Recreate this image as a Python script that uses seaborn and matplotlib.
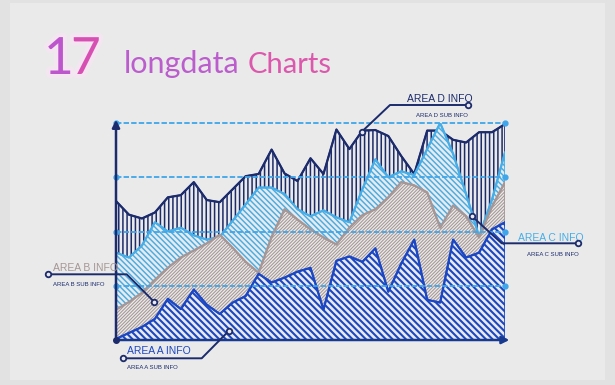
import numpy as np
import matplotlib
matplotlib.use("Agg")
import matplotlib.pyplot as plt
import matplotlib.patheffects as pe
from matplotlib.lines import Line2D
from matplotlib.patches import Rectangle
import seaborn as sns

# ---- data ----
x = np.arange(31)
area_d = [2.56, 2.31, 2.24, 2.35, 2.63, 2.67, 2.91, 2.58, 2.54, 2.78, 3.02, 3.06, 3.51, 3.07, 2.93,
          3.35, 3.06, 3.88, 3.52, 3.86, 3.87, 3.76, 3.39, 3.06, 3.86, 3.86, 3.69, 3.64, 3.83, 3.83, 3.98]
area_c = [1.61, 1.52, 1.74, 2.17, 2.00, 2.07, 1.93, 1.85, 1.90, 2.20, 2.50, 2.81, 2.81, 2.69, 2.41,
          2.28, 2.39, 2.26, 2.17, 2.78, 3.33, 3.00, 3.11, 3.04, 3.52, 4.00, 3.43, 2.69, 1.91, 2.59, 3.46]
area_b = [0.56, 0.70, 0.87, 1.11, 1.33, 1.52, 1.65, 1.78, 1.94, 1.70, 1.44, 1.24, 1.90, 2.41, 2.22,
          2.04, 1.89, 1.76, 2.07, 2.30, 2.41, 2.63, 2.91, 2.85, 2.72, 2.07, 2.48, 2.28, 1.89, 2.46, 2.91]
area_a = [0.02, 0.13, 0.24, 0.39, 0.76, 0.57, 0.93, 0.65, 0.48, 0.69, 0.81, 1.22, 1.06, 1.15, 1.26,
          1.33, 0.56, 1.46, 1.54, 1.44, 1.69, 0.89, 1.41, 1.85, 0.74, 0.69, 1.85, 1.52, 1.61, 2.04, 2.17]
grid_levels = [1, 2, 3, 4]

labels = ["AREA A INFO", "AREA B INFO", "AREA C INFO", "AREA D INFO"]
sub_labels = ["AREA A SUB INFO", "AREA B SUB INFO", "AREA C SUB INFO", "AREA D SUB INFO"]

# ---- style ----
sns.set_theme(style="white")
plt.rcParams["font.family"] = ["Liberation Sans", "DejaVu Sans"]
plt.rcParams["hatch.linewidth"] = 1.0

BG = "#eaeaea"
NAVY = "#1c2b6c"
LIGHT = "#45aee8"
TAUPE = "#a69696"
ROYAL = "#1b47c4"
GRID = "#3fa6ea"

W, H = 615, 385
fig = plt.figure(figsize=(6.15, 3.85), dpi=100)
fig.patch.set_facecolor("#e2e2e2")
fig.add_artist(Rectangle((10 / W, 1 - 380 / H), 595 / W, 377 / H, transform=fig.transFigure,
                         facecolor=BG, edgecolor="none", zorder=-10))


def fx(px):
    return px / W


def fy(py):
    return 1 - py / H


ax = fig.add_axes([fx(116), fy(340), 389 / W, 217 / H])
ax.set_facecolor("none")
ax.set_xlim(0, 30)
ax.set_ylim(0, 4)
ax.axis("off")

# back to front: D, C, B, A
layers = [
    (area_d, NAVY, "||||", 1.1),
    (area_c, LIGHT, "\\" * 6, 1.05),
    (area_b, TAUPE, "/" * 10, 0.75),
    (area_a, ROYAL, "\\" * 5, 1.5),
]
for i, (vals, col, hatch, hlw) in enumerate(layers):
    poly = ax.fill_between(x, 0, vals, facecolor=BG, edgecolor=col, hatch=hatch,
                           linewidth=1.2, zorder=1 + i)
    if hasattr(poly, "set_hatch_linewidth"):
        poly.set_hatch_linewidth(hlw)
    sns.lineplot(x=x, y=vals, color=col, lw=1.6, ax=ax, zorder=1.5 + i)

# dashed guide lines
for g in grid_levels:
    ax.plot([0, 30], [g, g], ls=(0, (3, 1.2)), color=GRID, lw=1.3, zorder=8, clip_on=False)
    ax.plot([0, 30], [g, g], "o", ms=3.5, color=GRID, zorder=8, clip_on=False)

# axes with arrows
ax.annotate("", xy=(0, 4.11), xytext=(0, 0), annotation_clip=False, zorder=9,
            arrowprops=dict(arrowstyle="-|>", color=NAVY, lw=1.8, mutation_scale=11))
ax.annotate("", xy=(30.55, 0), xytext=(0, 0), annotation_clip=False, zorder=9,
            arrowprops=dict(arrowstyle="-|>", color="#183a8e", lw=1.8, mutation_scale=11))
ax.plot([0], [0], "o", ms=4, color=NAVY, zorder=10, clip_on=False)

# ---- title ----
glow = [pe.withStroke(linewidth=6, foreground="#f6e6f2", alpha=0.9)]
fig.text(fx(44), fy(74), "1", fontsize=37, color="#bd55cc", family="Lato",
         va="baseline", ha="left", path_effects=glow)
fig.text(fx(71), fy(74), "7", fontsize=37, color="#d84fb4", family="Lato",
         va="baseline", ha="left", path_effects=glow)
fig.text(fx(124), fy(73), "longdata", fontsize=22, color="#bb5dcd", family="Lato",
         va="baseline", ha="left")
fig.text(fx(248), fy(73), "Charts", fontsize=21, color="#dc58ad", family="Lato",
         va="baseline", ha="left")


# ---- annotations ----
def leader(pts, col=NAVY):
    xs = [fx(p[0]) for p in pts]
    ys = [fy(p[1]) for p in pts]
    fig.add_artist(Line2D(xs, ys, transform=fig.transFigure, color=col, lw=1.4, zorder=20))
    for p in (pts[0], pts[-1]):
        fig.add_artist(Line2D([fx(p[0])], [fy(p[1])], transform=fig.transFigure, marker="o",
                              ms=4, mfc=BG, mec=col, mew=1.3, zorder=21))


LBL = 7.5
SUB = 4.3
# D
fig.text(fx(407), fy(101.7), labels[3], fontsize=LBL, color=NAVY, va="baseline")
fig.text(fx(416), fy(116.7), sub_labels[3], fontsize=SUB, color=NAVY, va="baseline")
leader([(468, 105), (390, 105), (362, 131.5)])
# B
fig.text(fx(52.7), fy(270.7), labels[1], fontsize=LBL, color=TAUPE, va="baseline")
fig.text(fx(52.7), fy(285.7), sub_labels[1], fontsize=SUB, color=NAVY, va="baseline")
leader([(48.3, 274.3), (126.7, 274.3), (154, 301.7)])
# A
fig.text(fx(127.3), fy(354.3), labels[0], fontsize=LBL, color=ROYAL, va="baseline")
fig.text(fx(127.3), fy(369), sub_labels[0], fontsize=SUB, color=NAVY, va="baseline")
leader([(123.3, 358.3), (201.7, 358.3), (229, 330.7)])
# C
fig.text(fx(518.3), fy(240.7), labels[2], fontsize=LBL, color=LIGHT, va="baseline")
fig.text(fx(526.7), fy(256), sub_labels[2], fontsize=SUB, color=NAVY, va="baseline")
leader([(471.7, 216), (501.7, 243.3), (578.3, 243.3)])

fig.savefig("out.png", dpi=100, facecolor=fig.get_facecolor())
